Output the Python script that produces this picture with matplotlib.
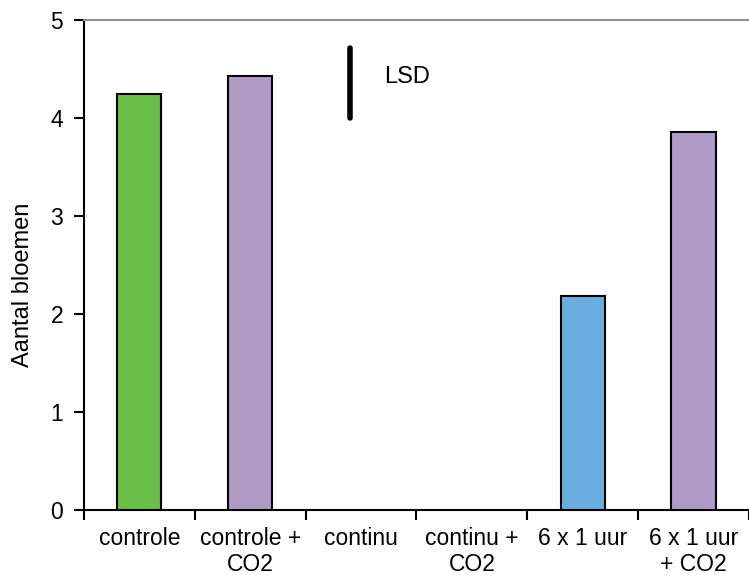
import matplotlib
matplotlib.use("Agg")
import matplotlib.pyplot as plt
import numpy as np

categories = ["controle", "controle +\nCO2", "continu", "continu +\nCO2", "6 x 1 uur", "6 x 1 uur\n+ CO2"]
values = [4.25, 4.43, 0.0, 0.0, 2.19, 3.86]
colors = ["#6abf4b", "#b09bc6", "#b09bc6", "#b09bc6", "#6aaee0", "#b09bc6"]
lsd_pos = 1.9
lsd_low, lsd_high = 4.0, 4.72
yticks = [0, 1, 2, 3, 4, 5]

plt.rcParams['font.family'] = ['Liberation Sans', 'DejaVu Sans']
fig = plt.figure(figsize=(7.49, 5.79), dpi=100)
ax = fig.add_axes([0.112, 0.119, 0.888, 0.846])

x = np.arange(len(categories))
for xi, v, c in zip(x, values, colors):
    if v > 0:
        ax.bar(xi, v, width=0.4, color=c, edgecolor="black", linewidth=1.5, zorder=3)

ax.set_xlim(-0.5, len(categories) - 0.5)
ax.set_ylim(0, 5)
ax.set_yticks(yticks)
ax.set_yticklabels([str(t) for t in yticks], fontsize=16.5)
ax.set_xticks(x)
ax.set_xticklabels(categories, fontsize=16.5, linespacing=1.2)
ax.tick_params(axis='x', length=0, pad=12)
ax.set_xticks(np.arange(-0.5, len(categories)), minor=True)
ax.tick_params(axis='x', which='minor', length=7, width=1.5, direction='out')
ax.tick_params(axis='y', length=7, width=1.5, direction='out', pad=8)

for s in ['left', 'bottom']:
    ax.spines[s].set_linewidth(1.5)
ax.spines['top'].set_color('#909090')
ax.spines['top'].set_linewidth(1.5)
ax.spines['right'].set_visible(False)

ax.plot([lsd_pos, lsd_pos], [lsd_low, lsd_high], color='black', lw=4, solid_capstyle='round')
ax.text(lsd_pos + 0.31, (lsd_low + lsd_high) / 2 + 0.06, "LSD", fontsize=17, va='center', ha='left')

ax.set_ylabel("Aantal bloemen", fontsize=17)
ax.yaxis.set_label_coords(-0.075, 0.46)

fig.savefig("out.png", dpi=100)
